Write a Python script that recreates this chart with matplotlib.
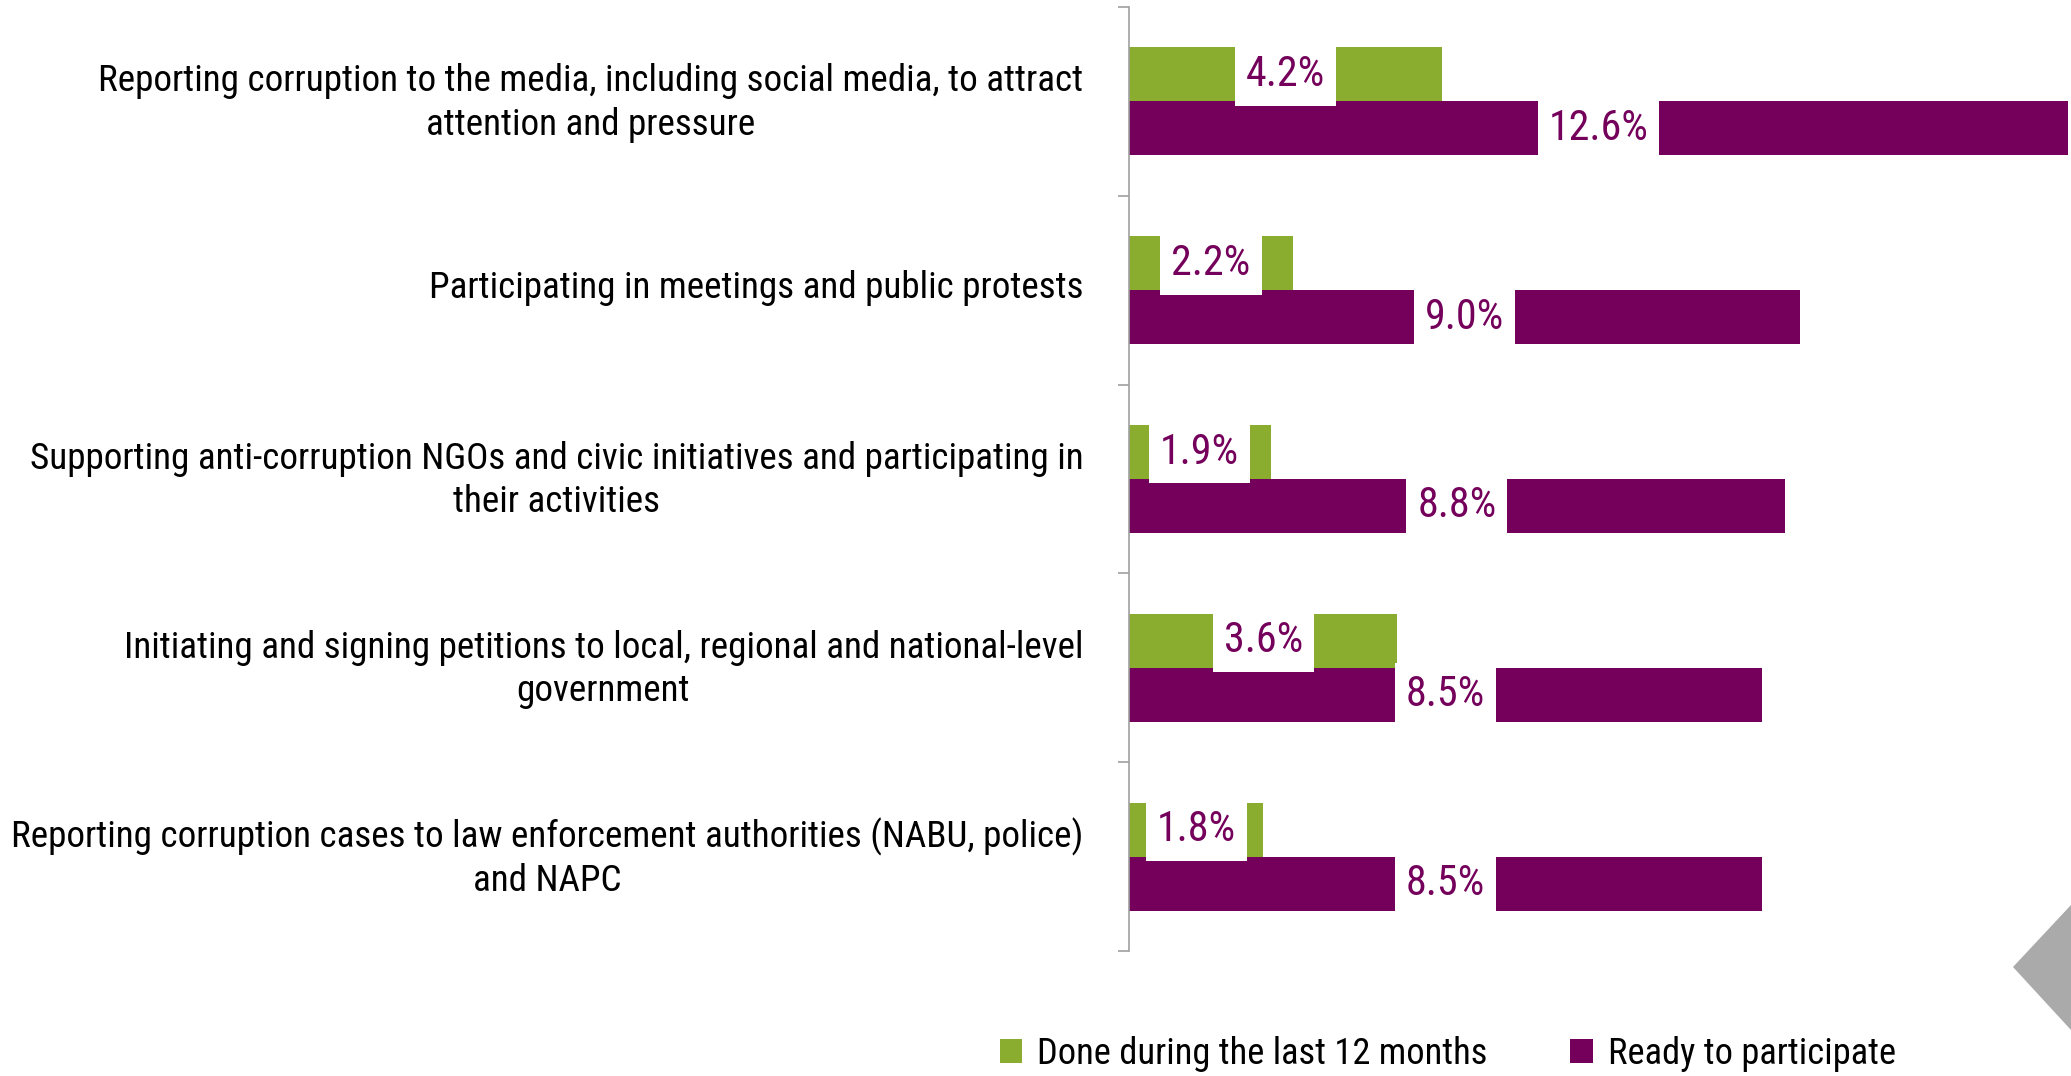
import matplotlib.pyplot as plt
import numpy as np
from matplotlib.patches import Polygon
from matplotlib.transforms import ScaledTranslation

plt.rcParams["font.family"] = ["Roboto Condensed", "Roboto", "DejaVu Sans"]

categories = [
    "Reporting corruption to the media, including social media, to attract\nattention and pressure",
    "Participating in meetings and public protests",
    "Supporting anti-corruption NGOs and civic initiatives and participating in\ntheir activities",
    "Initiating and signing petitions to local, regional and national-level\ngovernment",
    "Reporting corruption cases to law enforcement authorities (NABU, police)\nand NAPC",
]
done_12m = [4.2, 2.2, 1.9, 3.6, 1.8]
ready = [12.6, 9.0, 8.8, 8.5, 8.5]
series_names = ["Done during the last 12 months", "Ready to participate"]

GREEN = "#8aac2f"
PURPLE = "#74005b"

W, H = 2071, 1076
fig = plt.figure(figsize=(W / 100, H / 100), dpi=100)
ax = fig.add_axes([1129 / W, 1 - 951 / H, (W - 1129) / W, (951 - 7) / H])

y = np.arange(len(categories))
h = 0.286
b1 = ax.barh(y - h / 2, done_12m, height=h, color=GREEN, label=series_names[0])
b2 = ax.barh(y + h / 2, ready, height=h, color=PURPLE, label=series_names[1])

value_texts = []
for bars, vals in [(b1, done_12m), (b2, ready)]:
    for bar, v in zip(bars, vals):
        t = ax.text(bar.get_width() / 2, bar.get_y() + bar.get_height() / 2,
                    f"{v:.1f}%", ha="center", va="center", fontsize=27, color=PURPLE,
                    bbox=dict(facecolor="white", edgecolor="none", pad=7))
        value_texts.append(t)

ax.set_xlim(0, 12.64)
ax.set_ylim(len(categories) - 0.5, -0.5)
ax.set_yticks(np.arange(len(categories) + 1) - 0.5)
ax.set_yticklabels([])
ax.set_yticks(y, minor=True)
ax.set_yticklabels(categories, minor=True, fontsize=27)
ax.tick_params(axis="y", which="minor", length=0, pad=33)
ax.tick_params(axis="y", which="major", length=8, color="#a0a0a0", width=1.2)
for lbl in ax.get_yticklabels(minor=True):
    lbl.set_multialignment("center")
ax.set_xticks([])
for side in ["top", "right", "bottom"]:
    ax.spines[side].set_visible(False)
ax.spines["left"].set_color("#a0a0a0")
ax.spines["left"].set_linewidth(1.2)

leg = fig.legend(loc="center", bbox_to_anchor=(0.699, 0.02), ncol=2, frameon=False,
                 fontsize=27, handlelength=0.6, handleheight=0.6, handletextpad=0.4,
                 columnspacing=2.2)


def fit_width(texts, target_px):
    # scale the font so the widest of these texts spans target_px
    fig.canvas.draw()
    r = fig.canvas.get_renderer()
    widest = max(t.get_window_extent(r).width for t in texts)
    for t in texts:
        t.set_fontsize(t.get_fontsize() * target_px / widest)


ticklabels = list(ax.get_yticklabels(minor=True))
fit_width(ticklabels, 1070)
fs_px = ticklabels[0].get_fontsize() * 100 / 72
for lbl in ticklabels:
    lbl.set_linespacing(1.21 * 45 / (1.17 * fs_px))
fit_width([value_texts[len(done_12m)]], 100)
for t in value_texts:
    t.set_fontsize(value_texts[len(done_12m)].get_fontsize())
fit_width([leg.get_texts()[0]], 450)
for t in leg.get_texts():
    t.set_fontsize(leg.get_texts()[0].get_fontsize())

# nudge the category labels up a little, as in the original
nudge = ScaledTranslation(0, 0.06, fig.dpi_scale_trans)
for lbl in ax.get_yticklabels(minor=True):
    lbl.set_transform(lbl.get_transform() + nudge)

# grey slide decoration in the bottom-right corner
fig.patches.append(Polygon([(2013 / W, 1 - 967 / H), (1.0, 1 - 905 / H), (1.0, 1 - 1030 / H)],
                           closed=True, transform=fig.transFigure, facecolor="#aaaaaa",
                           edgecolor="none"))

fig.savefig("out.png", dpi=100)
